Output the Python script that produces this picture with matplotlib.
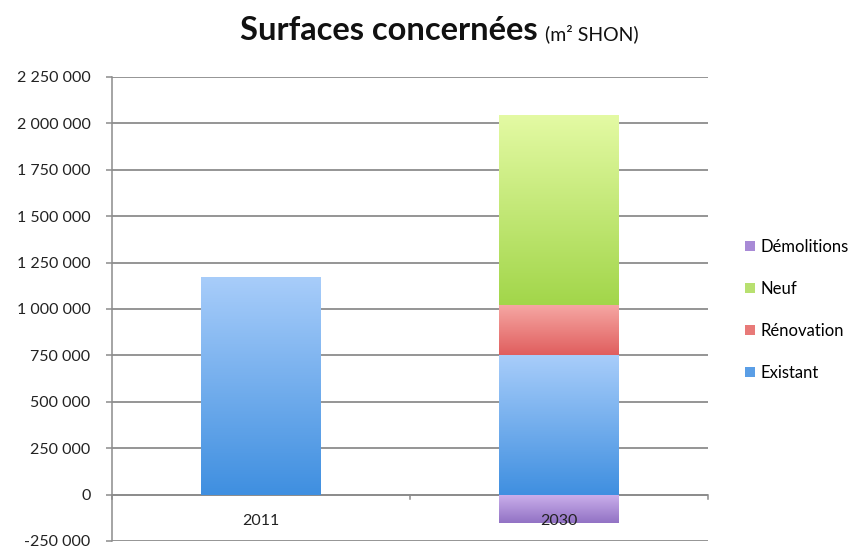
import matplotlib
matplotlib.use("Agg")
import matplotlib.pyplot as plt
import numpy as np
from matplotlib.colors import LinearSegmentedColormap
from matplotlib.patches import Patch
from matplotlib.ticker import FuncFormatter

categories = ["2011", "2030"]
existant = [1170000, 750000]
renovation = [0, 270000]
neuf = [0, 1025000]
demolitions = [0, -155000]
series_names = ["Démolitions", "Neuf", "Rénovation", "Existant"]

plt.rcParams['font.family'] = ['Lato', 'DejaVu Sans']

fig = plt.figure(figsize=(8.57, 5.48), dpi=100)
ax = fig.add_axes([112/857, 1-541/548, (708-112)/857, (541-77)/548])

x = np.arange(len(categories))
w = 0.4

grads = {
    "Existant": ("#3f8fe0", "#a8cdfa"),
    "Rénovation": ("#e05e5e", "#f6a8a4"),
    "Neuf": ("#a2d64a", "#e4faa4"),
    "Démolitions": ("#9272c4", "#cbb0ec"),
}
legend_cols = {"Existant": "#5a9ee6", "Rénovation": "#e87a78", "Neuf": "#b8e070", "Démolitions": "#a88ad6"}

def grad_bars(bars, name):
    lo, hi = grads[name]
    cmap = LinearSegmentedColormap.from_list(name, [lo, hi])
    for b in bars:
        h = b.get_height()
        if h == 0:
            continue
        x0, y0 = b.get_x(), b.get_y()
        y1 = y0 + h
        b.set_facecolor("none")
        b.set_edgecolor("none")
        grad = np.linspace(0, 1, 256).reshape(-1, 1)
        im = ax.imshow(grad, cmap=cmap, origin="lower", aspect="auto",
                       extent=(x0, x0 + b.get_width(), min(y0, y1), max(y0, y1)),
                       zorder=2, interpolation="bicubic")
        im.set_clip_path(b)

b_ex = ax.bar(x, existant, w, zorder=2)
grad_bars(b_ex, "Existant")
b_re = ax.bar(x, renovation, w, bottom=existant, zorder=2)
grad_bars(b_re, "Rénovation")
bot_neuf = [e + r for e, r in zip(existant, renovation)]
b_ne = ax.bar(x, neuf, w, bottom=bot_neuf, zorder=2)
grad_bars(b_ne, "Neuf")
b_de = ax.bar(x, demolitions, w, zorder=2)
grad_bars(b_de, "Démolitions")

ax.set_xlim(-0.5, 1.5)
ax.set_ylim(-250000, 2250000)
ax.set_yticks(np.arange(-250000, 2250001, 250000))
ax.yaxis.set_major_formatter(FuncFormatter(lambda v, p: f"{int(v):,}".replace(",", " ")))
ax.grid(axis="y", color="#8c8c8c", linewidth=1.3, zorder=0)
ax.set_axisbelow(True)
for s in ["top", "right", "bottom"]:
    ax.spines[s].set_visible(False)
ax.spines["left"].set_color("#8c8c8c")
ax.spines["left"].set_linewidth(1.1)
ax.tick_params(axis="y", length=4.5, width=1.1, color="#8c8c8c", labelsize=11.5, pad=11, labelcolor="#222222")
ax.set_xticks([])
ax.axhline(0, color="#8c8c8c", linewidth=1.3, zorder=1)
for xt in [-0.5, 0.5, 1.5]:
    ax.plot([xt, xt], [0, -25000], color="#8c8c8c", linewidth=1.1, zorder=1, clip_on=False)
for xi, c in zip(x, categories):
    ax.text(xi, -140000, c, ha="center", va="center", fontsize=11.5, color="#222222", zorder=5)

handles = [Patch(facecolor=legend_cols[n], edgecolor="none") for n in series_names]
leg = fig.legend(handles, series_names, loc="center left", bbox_to_anchor=(737/857, 1-310/548),
                 frameon=False, fontsize=12, handlelength=0.55, handleheight=0.55,
                 handletextpad=0.35, labelspacing=1.55, borderpad=0)

fig.text(538/857, 1-40/548, "Surfaces concernées", ha="right", va="baseline",
         fontsize=23.5, fontweight="bold", color="#111111")
fig.text(545/857, 1-40/548, "(m² SHON)", ha="left", va="baseline",
         fontsize=14, color="#111111")

fig.savefig("out.png", dpi=100)
